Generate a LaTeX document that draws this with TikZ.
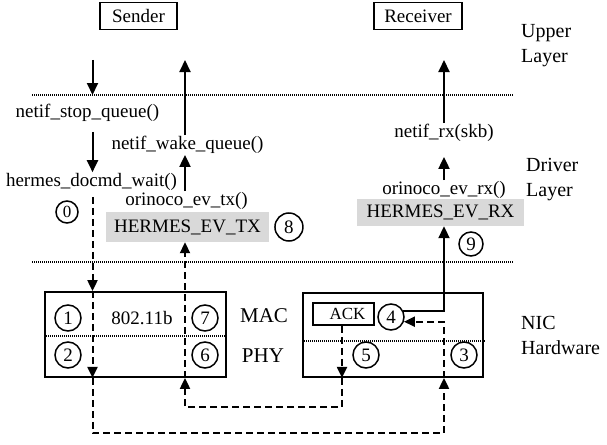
\documentclass[tikz,border=0pt]{standalone}
\usepackage{fontspec}
\setmainfont{Liberation Serif}
\usetikzlibrary{arrows.meta, positioning}

\begin{document}
\begin{tikzpicture}[
      x=1pt, y=-1pt,
      font=\fontsize{19}{24}\selectfont,
      lbl/.style    = {inner sep=1pt},
      side/.style   = {align=left, anchor=west, inner sep=0pt,
                       font=\fontsize{20}{25}\selectfont},
      endbox/.style = {draw, line width=1.6pt, minimum height=27pt, inner sep=0pt},
      nicbox/.style = {draw, line width=1.8pt, inner sep=0pt},
      evbox/.style  = {fill=gray!30, inner sep=0pt},
      num/.style    = {draw, circle, line width=1.5pt, minimum size=26pt, inner sep=0pt},
      arr/.style    = {-{Triangle[length=12pt,width=11pt]}, line width=2pt},
      darr/.style   = {-{Triangle[length=11pt,width=10pt]}, line width=2pt,
                       dash pattern=on 7pt off 4pt},
      dotline/.style = {line width=2.2pt, dash pattern=on 1pt off 1pt},
    ]
    \useasboundingbox (0,0) rectangle (607,444);

    % sender / receiver and layer names
    \node[endbox, minimum width=77pt] (send) at (138.5,16) {Sender};
    \node[endbox, minimum width=88pt] (recv) at (418,16)   {Receiver};
    \node[side] (upper)  at (521,46)  {Upper\\Layer};
    \node[side] (driver) at (526,180) {Driver\\Layer};
    \node[side] (nichw)  at (521,335) {NIC\\Hardware};

    \coordinate (sx)   at (92.5,60);
    \coordinate (tx)   at (185,60);
    \coordinate (rx)   at (444,60);
    \coordinate (dl1w) at (32,95);
    \coordinate (dl1e) at (513,95);
    \coordinate (dl2w) at (32,262);
    \coordinate (dl2e) at (513,262);
    \coordinate (bot1) at (92.5,433);
    \coordinate (bot2) at (342,407);

    % driver layer
    \node[lbl] (stopq) at (87.5,113) {netif\_stop\_queue()};
    \node[lbl] (wake)  at (187.5,145) {netif\_wake\_queue()};
    \node[lbl] (hdw)   at (91.5,182) {hermes\_docmd\_wait()};
    \node[lbl] (evtx)  at (186.5,201) {orinoco\_ev\_tx()};
    \node[evbox, minimum width=163pt, minimum height=30pt] (htx) at (187.5,227) {HERMES\_EV\_TX};
    \node[num, minimum size=28pt, right=5pt of htx] (n8) {8};
    \node[num, minimum size=22pt, font=\fontsize{17}{17}\selectfont] (n0) at (67,212) {0};
    \node[lbl] (netrx) at (444,133) {netif\_rx(skb)};
    \node[lbl] (evrx)  at (444,190) {orinoco\_ev\_rx()};
    \node[evbox, minimum width=167pt, minimum height=27pt] (hrx) at (440.5,212.5) {HERMES\_EV\_RX};
    \node[num, minimum size=24pt] (n9) at (471,244) {9};

    % NIC hardware
    \node[nicbox, minimum width=181pt, minimum height=85pt] (lnic) at (135.5,334.5) {};
    \node[nicbox, minimum width=180pt, minimum height=84pt] (rnic) at (393,335) {};
    \draw[dotline] ([yshift=-1.5pt]lnic.west) -- ([yshift=-1.5pt]lnic.east);
    \draw[dotline] ([yshift=-6pt]rnic.west) -- ([yshift=-6pt,xshift=2pt]rnic.east);
    \node[lbl] (wifi) at (142,318) {802.11b};
    \node[lbl, font=\fontsize{21}{21}\selectfont] (mac) at (264,316) {MAC};
    \node[lbl, font=\fontsize{21}{21}\selectfont] (phy) at (263,356) {PHY};
    \node[num] (n1) at (68,318)  {1};
    \node[num] (n2) at (68,355)  {2};
    \node[num] (n7) at (205,318) {7};
    \node[num] (n6) at (205,355) {6};
    \node[num] (n4) at (391,317) {4};
    \node[num] (n5) at (366,355) {5};
    \node[num] (n3) at (464,355) {3};
    \node[draw, line width=1.6pt, minimum width=61pt, minimum height=22pt, inner sep=0pt,
          font=\fontsize{17}{17}\selectfont] (ack) at (343.5,314) {\hspace{8pt}ACK};

    \draw[dotline] (dl1w) -- (dl1e);
    \draw[dotline] (dl2w) -- (dl2e);

    % solid calls
    \draw[arr] (sx) -- (sx |- dl1w);
    \draw[arr, shorten <=9pt] (stopq.south -| sx) -- (hdw.north -| sx);
    \draw[arr] (evtx.north -| tx) -- (wake.south -| tx);
    \draw[arr] (wake.north -| tx) -- (tx);
    \draw[arr, shorten >=14pt] (evrx.north) -- (netrx.south);
    \draw[arr] (netrx.north) -- (rx);
    \draw[arr] (n4.25) -- (n4.25 -| rx) -- (hrx.south -| rx);

    % frame and ack over the air
    \draw[darr, shorten <=5pt] (hdw.south -| sx) -- (lnic.north -| sx);
    \draw[darr] (lnic.north -| sx) -- (lnic.south -| sx);
    \draw[darr] (lnic.south -| sx) -- (bot1) -| (rnic.south -| rx);
    \draw[darr] (rnic.south -| rx) |- (n4.-20);
    \draw[darr] (ack.south -| bot2) -- (rnic.south -| bot2);
    \draw[darr] (rnic.south -| bot2) -- (bot2) -| (lnic.south -| tx);
    \draw[darr] (lnic.south -| tx) -- (htx.south -| tx);
  \end{tikzpicture}
\end{document}
